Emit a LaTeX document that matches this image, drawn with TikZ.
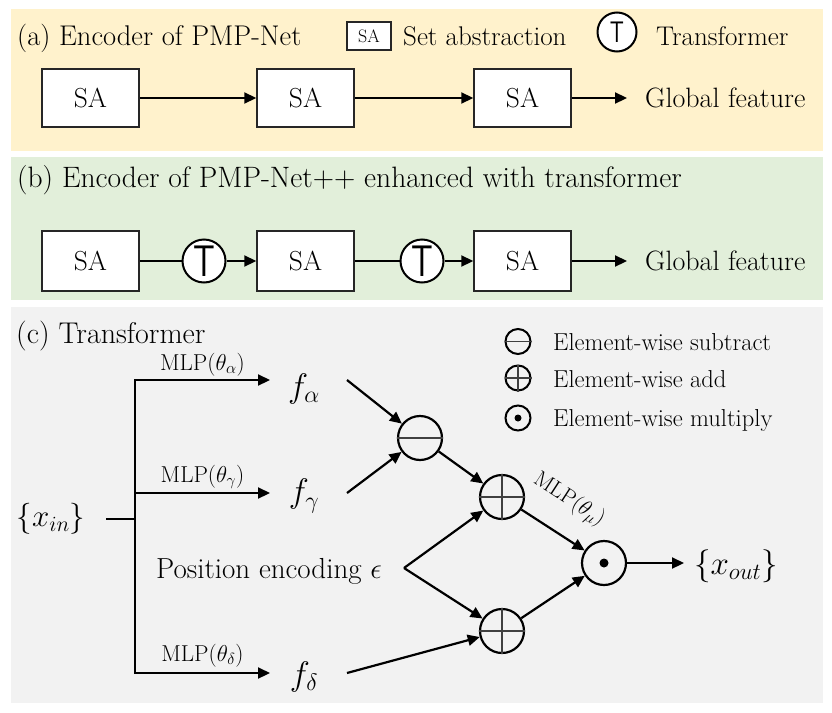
\RequirePackage{fix-cm}
\documentclass[tikz,border=0pt]{standalone}
\usepackage{graphicx}
\usetikzlibrary{arrows.meta}
\definecolor{bgA}{HTML}{FFF2CC}
\definecolor{bgB}{HTML}{E2EFDA}
\definecolor{bgC}{HTML}{F2F2F2}
\newcommand\fsz[1]{\fontsize{#1}{#1}\selectfont}
\begin{document}
\begin{tikzpicture}[x=1pt,y=-1pt,
  arr/.style={line width=2.2pt,-{Triangle[length=12pt,width=11pt]}},
  ln/.style={line width=2.2pt},
  sabox/.style={draw=black!85,line width=1.5pt,fill=white,minimum width=97pt,minimum height=58pt,inner sep=0pt,font=\fsz{27.5}},
  tcirc/.style={circle,draw,line width=2pt,fill=white,minimum size=43pt,inner sep=0pt,font=\fsz{34}\sffamily},
  opc/.style={circle,draw,line width=2.2pt,minimum size=44pt,inner sep=0pt},
  legc/.style={circle,draw,line width=2pt,minimum size=25pt,inner sep=0pt},
  inl/.style={line width=1.3pt,black!75},
  lbl/.style={inner sep=0pt,anchor=base west},
  ttl/.style={lbl,font=\fsz{29}},
  leg/.style={lbl,font=\fsz{24.5}},
  mlp/.style={font=\fsz{23},inner sep=3pt},
  fnode/.style={font=\fsz{34},inner sep=0pt}
]
\useasboundingbox (0,0) rectangle (832,712);
\fill[white] (0,0) rectangle (832,712);
\fill[bgA] (11,9) rectangle (823,151);
\fill[bgB] (11,157) rectangle (823,300);
\fill[bgC] (11,307) rectangle (823,703);

% ---------- panel (a)
\node[ttl,font=\fsz{28.5}] (ta) at (17,45) {(a) Encoder of PMP-Net};
\node[draw=black!85,line width=1.2pt,fill=white,minimum width=44pt,minimum height=28pt,inner sep=0pt,font=\fsz{18}] (lsa) at (369,36) {SA};
\node[lbl,font=\fsz{27}] (lsat) at (403,45) {Set abstraction};
\node[tcirc,minimum size=39pt,font=\fsz{22}\sffamily] (lt) at (617,32) {\scalebox{1}[1.35]{T}};
\node[lbl,font=\fsz{27}] (ltt) at (656,45) {Transformer};

\node[sabox] (a1) at (90.5,98) {SA};
\node[sabox] (a2) at (305.5,98) {SA};
\node[sabox] (a3) at (522.5,98) {SA};
\coordinate (ga) at (627,98);
\node[ttl,font=\fsz{28}] (gat) at (645,107) {Global feature};
\draw[arr] (a1) -- (a2);
\draw[arr] (a2) -- (a3);
\draw[arr] (a3) -- (ga);

% ---------- panel (b)
\node[ttl,font=\fsz{29.5}] (tb) at (17,187) {(b) Encoder of PMP-Net++ enhanced with transformer};
\node[sabox,minimum height=60pt] (b1) at (90.5,261) {SA};
\node[sabox,minimum height=60pt] (b2) at (305.5,261) {SA};
\node[sabox,minimum height=60pt] (b3) at (522.5,261) {SA};
\node[tcirc] (t1) at (204,261) {\scalebox{1}[1.3]{T}};
\node[tcirc] (t2) at (422,261) {\scalebox{1}[1.3]{T}};
\coordinate (gb) at (627,261);
\node[ttl,font=\fsz{28}] (gbt) at (645,270) {Global feature};
\draw[ln] (b1) -- (t1);
\draw[arr] (t1) -- (b2);
\draw[ln] (b2) -- (t2);
\draw[arr] (t2) -- (b3);
\draw[arr] (b3) -- (gb);

% ---------- panel (c)
\node[ttl,font=\fsz{30}] (tc) at (16,343) {(c) Transformer};

% legend
\node[legc] (lsub) at (518,341.5) {};
\draw[inl] (lsub.west) -- (lsub.east);
\node[leg] (lsubt) at (553,350) {Element-wise subtract};
\node[legc] (ladd) at (518,378) {};
\draw[inl] (ladd.west) -- (ladd.east);
\draw[inl] (ladd.north) -- (ladd.south);
\node[leg] (laddt) at (553,387) {Element-wise add};
\node[legc] (lmul) at (518,418) {};
\fill (lmul.center) circle (3.5pt);
\node[leg] (lmult) at (553,426) {Element-wise multiply};

% input tree
\node[font=\fsz{31},inner sep=0pt] (xin) at (51,519) {$\{x_{in}\}$};
\coordinate (s0) at (106,519);
\coordinate (j) at (135,519);
\coordinate (ea) at (270,380);
\coordinate (eg) at (270,493);
\coordinate (ed) at (270,673);
\draw[ln] (s0) -- (j);
\draw[arr] (j) |- node[mlp,pos=0.75,above] (ma) {MLP$(\theta_{\alpha})$} (ea);
\draw[arr] (j) |- node[mlp,pos=0.75,above] (mg) {MLP$(\theta_{\gamma})$} (eg);
\draw[arr] (j) |- node[mlp,pos=0.75,above,yshift=2pt] (md) {MLP$(\theta_{\delta})$} (ed);

\node[fnode] (fa) at (304,389) {$f_{\alpha}$};
\node[fnode] (fg) at (304,496) {$f_{\gamma}$};
\node[fnode] (fd) at (304,677) {$f_{\delta}$};

% operators
\node[opc] (sub) at (420,438) {};
\draw[inl] (sub.west) -- (sub.east);
\node[opc] (add1) at (502,497) {};
\draw[inl] (add1.west) -- (add1.east);
\draw[inl] (add1.north) -- (add1.south);
\node[opc] (add2) at (502,631) {};
\draw[inl] (add2.west) -- (add2.east);
\draw[inl] (add2.north) -- (add2.south);
\node[opc] (mul) at (604,563) {};
\fill (mul.center) circle (4.5pt);

\coordinate (sa) at (347,380);
\coordinate (sg) at (347,493);
\coordinate (sd) at (347,673);
\draw[arr] (sa) -- (sub);
\draw[arr] (sg) -- (sub);
\draw[arr] (sub) -- (add1);

\node[lbl,font=\fsz{29}] (pe) at (156,578) {Position encoding $\epsilon$};
\coordinate (pv) at (404,568);
\draw[arr] (pv) -- (add1);
\draw[arr] (pv) -- (add2);
\draw[arr] (sd) -- (add2);

\draw[arr] (add1) -- (mul);
\node[font=\fsz{22},rotate=-33,inner sep=0pt] (mm) at (569,500) {MLP$(\theta_{\mu})$};
\draw[arr] (add2) -- (mul);
\coordinate (xo) at (684,563);
\draw[arr] (mul) -- (xo);
\node[font=\fsz{33},inner sep=0pt] (xout) at (736,566) {$\{x_{out}\}$};
\end{tikzpicture}
\end{document}
